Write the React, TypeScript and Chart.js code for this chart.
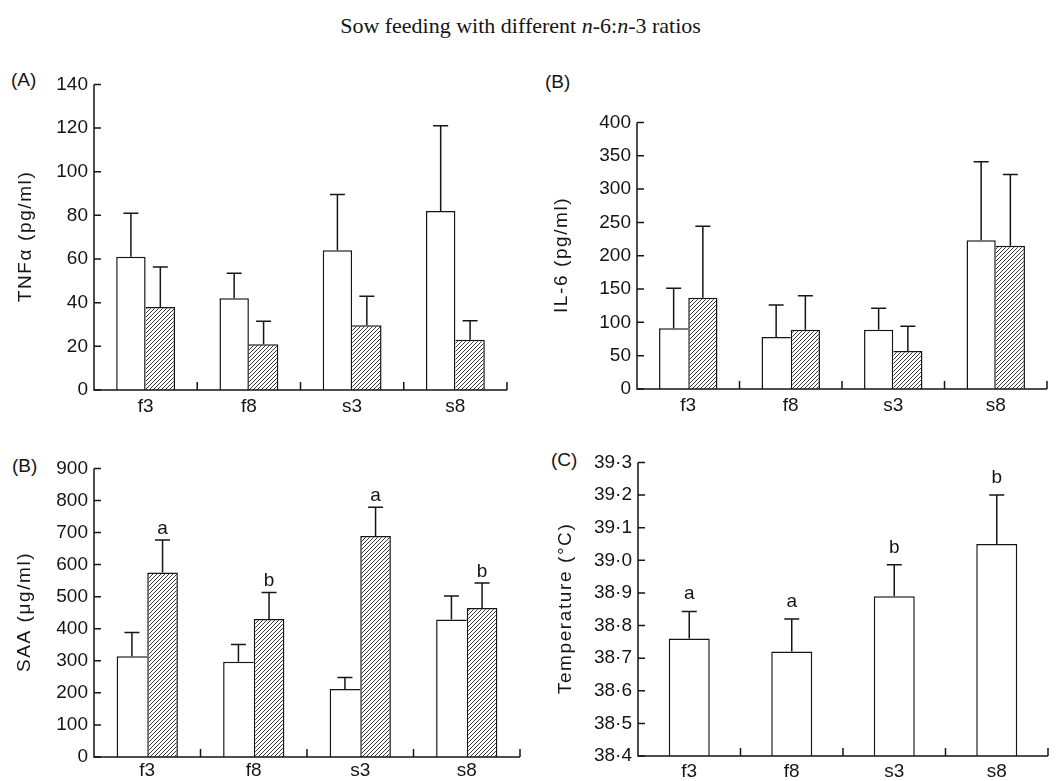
import React, { useEffect, useRef } from 'react';
import { Chart, registerables } from 'chart.js';

Chart.register(...registerables);

// ---------- data ----------
const categories = ['f3', 'f8', 's3', 's8'];

const tnfWhite = [61, 42, 64, 82];
const tnfWhiteErr = [81, 53.5, 89.6, 121];
const tnfHatched = [38, 21, 29.7, 23];
const tnfHatchedErr = [56.3, 31.5, 43, 31.7];

const il6White = [91, 78, 89, 223];
const il6WhiteErr = [151, 126, 121, 341];
const il6Hatched = [137, 89, 57, 215];
const il6HatchedErr = [244, 140, 94, 322];

const saaWhite = [314, 297, 212, 429];
const saaWhiteErr = [388, 351, 248, 502];
const saaHatched = [575, 430, 689, 465];
const saaHatchedErr = [677, 513, 779, 543];
const saaLetters = ['a', 'b', 'a', 'b'];

const tempValues = [38.76, 38.72, 38.89, 39.05];
const tempErr = [38.843, 38.82, 38.986, 39.2];
const tempLetters = ['a', 'a', 'b', 'b'];

const tnfRange = [0, 140, 20];
const il6Range = [0, 400, 50];
const saaRange = [0, 900, 100];
const tempRange = [38.4, 39.3, 0.1];

const FONT = "'Liberation Sans', Arial, sans-serif";
const INK = '#151515';
const FS = 19;

type Series = { values: number[]; errs: number[]; hatched: boolean; letters?: string[] };
type Panel = {
  left: number; top: number; width: number; height: number;
  yWidth: number; xHeight: number; padTop: number; padRight: number;
  titleX: number; xTickPad: number; letterGap: number;
  yTitle: string; range: number[]; dec: number; catPct: number;
  series: Series[];
};

const panels: Panel[] = [
  {
    left: 0, top: 67, width: 511, height: 353, yWidth: 94, xHeight: 30, padTop: 14, padRight: 4,
    titleX: 26, xTickPad: 5, letterGap: 6, yTitle: 'TNFα (pg/ml)', range: tnfRange, dec: 0, catPct: 0.57,
    series: [
      { values: tnfWhite, errs: tnfWhiteErr, hatched: false },
      { values: tnfHatched, errs: tnfHatchedErr, hatched: true },
    ],
  },
  {
    left: 528, top: 105, width: 523, height: 315, yWidth: 109, xHeight: 31, padTop: 14, padRight: 4,
    titleX: 562, xTickPad: 5, letterGap: 6, yTitle: 'IL-6 (pg/ml)', range: il6Range, dec: 0, catPct: 0.57,
    series: [
      { values: il6White, errs: il6WhiteErr, hatched: false },
      { values: il6Hatched, errs: il6HatchedErr, hatched: true },
    ],
  },
  {
    left: 0, top: 451, width: 524, height: 330, yWidth: 94, xHeight: 24, padTop: 14, padRight: 4,
    titleX: 25, xTickPad: 2, letterGap: 6, yTitle: 'SAA (μg/ml)', range: saaRange, dec: 0, catPct: 0.575,
    series: [
      { values: saaWhite, errs: saaWhiteErr, hatched: false },
      { values: saaHatched, errs: saaHatchedErr, hatched: true, letters: saaLetters },
    ],
  },
  {
    left: 528, top: 445, width: 524, height: 336, yWidth: 110, xHeight: 25, padTop: 14, padRight: 4,
    titleX: 566, xTickPad: 4, letterGap: 12, yTitle: 'Temperature (°C)', range: tempRange, dec: 1, catPct: 0.4,
    series: [{ values: tempValues, errs: tempErr, hatched: false, letters: tempLetters }],
  },
];

const panelLabels = [
  { text: '(A)', left: 11, top: 71 },
  { text: '(B)', left: 545, top: 73 },
  { text: '(B)', left: 12, top: 457 },
  { text: '(C)', left: 551, top: 451 },
];

function makeHatch(ctx: CanvasRenderingContext2D) {
  const c = document.createElement('canvas');
  const s = 4;
  c.width = s;
  c.height = s;
  const g = c.getContext('2d')!;
  g.fillStyle = '#fff';
  g.fillRect(0, 0, s, s);
  g.strokeStyle = '#222';
  g.lineWidth = 0.9;
  g.beginPath();
  g.moveTo(0, s); g.lineTo(s, 0);
  g.moveTo(-1, 1); g.lineTo(1, -1);
  g.moveTo(s - 1, s + 1); g.lineTo(s + 1, s - 1);
  g.stroke();
  return ctx.createPattern(c, 'repeat')!;
}

function PanelChart({ p }: { p: Panel }) {
  const ref = useRef<HTMLCanvasElement>(null);
  useEffect(() => {
    const canvas = ref.current!;
    const ctx = canvas.getContext('2d')!;
    const hatch = makeHatch(ctx);
    const pair = p.series.length === 2;
    const datasets = p.series.map((s, si) => ({
      data: s.values,
      backgroundColor: s.hatched ? hatch : '#ffffff',
      borderColor: INK,
      borderSkipped: 'start',
      inflateAmount: 0,
      categoryPercentage: p.catPct,
      barPercentage: 1,
      borderWidth: (c: any) => {
        const j = c.dataIndex;
        if (!pair) return { top: 1.5, left: 1.5, right: 1.5, bottom: 0 };
        const a = p.series[0].values[j];
        const b = p.series[1].values[j];
        if (si === 0) return { top: 1.5, left: 1.5, right: a >= b ? 1.5 : 0, bottom: 0 };
        return { top: 1.5, left: a >= b ? 0 : 1.5, right: 1.5, bottom: 0 };
      },
    }));

    const decor = {
      id: 'decor',
      afterDatasetsDraw(chart: any) {
        const c2 = chart.ctx as CanvasRenderingContext2D;
        const ca = chart.chartArea;
        const x = chart.scales.x;
        const y = chart.scales.y;
        c2.save();
        c2.strokeStyle = INK;
        c2.fillStyle = INK;
        c2.lineWidth = 1.5;
        // error bars + letters
        p.series.forEach((s, i) => {
          const meta = chart.getDatasetMeta(i);
          meta.data.forEach((bar: any, j: number) => {
            const ye = y.getPixelForValue(s.errs[j]);
            c2.beginPath();
            c2.moveTo(bar.x, bar.y);
            c2.lineTo(bar.x, ye);
            c2.moveTo(bar.x - 7.5, ye);
            c2.lineTo(bar.x + 7.5, ye);
            c2.stroke();
            if (s.letters) {
              c2.font = `${FS}px ${FONT}`;
              c2.textAlign = 'center';
              c2.textBaseline = 'alphabetic';
              c2.fillText(s.letters[j], bar.x, ye - p.letterGap);
            }
          });
        });
        // axes
        c2.beginPath();
        c2.moveTo(ca.left, ca.top);
        c2.lineTo(ca.left, ca.bottom);
        c2.lineTo(ca.right, ca.bottom);
        c2.stroke();
        // y ticks (inward)
        c2.beginPath();
        y.ticks.forEach((_t: any, i: number) => {
          const py = y.getPixelForTick(i);
          c2.moveTo(ca.left, py);
          c2.lineTo(ca.left + 7, py);
        });
        // x separators (inward)
        const n = categories.length;
        for (let i = 0; i < n; i++) {
          const px = i < n - 1 ? (x.getPixelForValue(i) + x.getPixelForValue(i + 1)) / 2 : ca.right;
          c2.moveTo(px, ca.bottom);
          c2.lineTo(px, ca.bottom - 8);
        }
        c2.stroke();
        // y-axis title
        c2.save();
        c2.translate(p.titleX - p.left, (ca.top + ca.bottom) / 2);
        c2.rotate(-Math.PI / 2);
        c2.font = `${FS}px ${FONT}`;
        (c2 as any).letterSpacing = '1.6px';
        c2.textAlign = 'center';
        c2.textBaseline = 'middle';
        c2.fillText(p.yTitle, 0.8, 0);
        c2.restore();
        c2.restore();
      },
    };

    const chart = new Chart(canvas, {
      type: 'bar',
      data: { labels: categories, datasets: datasets as any },
      options: {
        responsive: false,
        maintainAspectRatio: false,
        animation: false,
        layout: { padding: { top: p.padTop, right: p.padRight, left: 0, bottom: 0 } },
        plugins: { legend: { display: false }, tooltip: { enabled: false }, title: { display: false } },
        scales: {
          x: {
            type: 'category',
            offset: true,
            grid: { display: false, drawTicks: false },
            border: { display: false },
            ticks: { padding: p.xTickPad, color: INK, font: { family: FONT, size: FS }, maxRotation: 0, autoSkip: false },
            afterFit: (s: any) => { s.height = p.xHeight; },
          },
          y: {
            type: 'linear',
            min: p.range[0],
            max: p.range[1],
            grid: { display: false, drawTicks: false },
            border: { display: false },
            ticks: {
              stepSize: p.range[2],
              padding: 6,
              color: INK,
              font: { family: FONT, size: FS },
              callback: (v: any) => Number(v).toFixed(p.dec).replace('.', '·'),
            },
            title: { display: false },
            afterFit: (s: any) => { s.width = p.yWidth; },
          },
        },
      },
      plugins: [decor],
    } as any);
    return () => chart.destroy();
  }, [p]);
  return (
    <canvas
      ref={ref}
      width={p.width}
      height={p.height}
      style={{ position: 'absolute', left: p.left, top: p.top, width: p.width, height: p.height }}
    />
  );
}

export default function App() {
  return (
    <div style={{ position: 'absolute', left: 0, top: 0, width: 1058, height: 781, overflow: 'hidden', background: '#fff' }}>
      <div
        style={{
          position: 'absolute', left: 0, top: 15, width: 1041, textAlign: 'center',
          fontFamily: "'Liberation Serif', 'Times New Roman', serif", fontSize: 22, lineHeight: '22px', color: INK,
        }}
      >
        Sow feeding with different <i>n</i>-6:<i>n</i>-3 ratios
      </div>
      {panelLabels.map((l, i) => (
        <div
          key={i}
          style={{ position: 'absolute', left: l.left, top: l.top, fontFamily: FONT, fontSize: FS, lineHeight: '18px', color: INK }}
        >
          {l.text}
        </div>
      ))}
      {panels.map((p, i) => (
        <PanelChart key={i} p={p} />
      ))}
    </div>
  );
}
